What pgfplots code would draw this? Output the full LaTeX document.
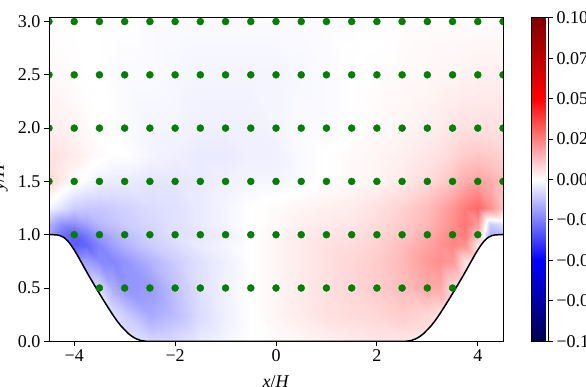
\documentclass[border=0pt]{standalone}
\usepackage{fontspec}
\setmainfont{Liberation Serif}
\usepackage{pgfplots}
\pgfplotsset{compat=1.18}
\definecolor{mplgreen}{RGB}{0,128,0}
\newcommand\tfont{\fontsize{18}{21}\selectfont}
\pgfplotsset{
  tick label style={font=\tfont},
  label style={font=\tfont},
  tick align=outside,
  major tick length=5pt,
  every tick/.style={black, line width=1pt},
  axis line style={line width=1pt},
}
\begin{document}
\begin{tikzpicture}
\path[use as bounding box] (0,0) rectangle (586pt,386pt);
\begin{axis}[
  at={(49pt,44.7pt)}, anchor=south west,
  scale only axis, width=454pt, height=323.6pt,
  xmin=-4.5, xmax=4.5, ymin=0, ymax=3.036,
  axis on top, clip marker paths=true,
  tick pos=left,
  xtick={-4,-2,0,2,4}, xticklabels={−4,−2,0,2,4},
  ytick={0,0.5,1,1.5,2,2.5,3}, yticklabels={0.0,0.5,1.0,1.5,2.0,2.5,3.0},
  xlabel={\textit{x}/\textit{H}},
  ylabel={\textit{y}/\textit{H}},
  xlabel style={at={(axis description cs:0.5,0)}, anchor=north, inner sep=0pt, yshift=-34pt},
  ylabel style={at={(axis description cs:-0.0903,0.508)}, anchor=south, rotate=0, inner sep=0pt},
  colormap={seismic}{rgb=(0,0,0.3) rgb=(0,0,1) rgb=(1,1,1) rgb=(1,0,0) rgb=(0.5,0,0)},
  point meta min=-0.1, point meta max=0.1,
  colorbar,
  colorbar style={
    at={(parent axis.north east)}, anchor=north west, xshift=19.5pt,
    scale only axis, width=17pt, height=323.6pt,
    ytick={-0.1,-0.075,-0.05,-0.025,0,0.025,0.05,0.075,0.1},
    yticklabels={−0.100,−0.075,−0.050,−0.025,0.000,0.025,0.050,0.075,0.100},
    ytick pos=right, yticklabel pos=right,
  },
]
% field, rows of constant y/H
\addplot[surf, shader=interp, mesh/cols=25, point meta=explicit] coordinates {
(-4.5,0)[-0.005] (-4.25,0)[-0.005] (-4,0)[-0.005] (-3.75,0)[-0.005] (-3.5,0)[-0.005] (-3.25,0)[-0.005] (-3,0)[-0.006] (-2.5,0)[-0.008] (-2,0)[-0.007] (-1.5,0)[-0.004] (-1,0)[-0.002] (-0.5,0)[0] (0,0)[0.001] (0.5,0)[0.002] (1,0)[0.003] (1.5,0)[0.004] (2,0)[0.005] (2.5,0)[0.005] (3,0)[0.004] (3.25,0)[0.003] (3.5,0)[0.003] (3.75,0)[0.003] (4,0)[0.003] (4.25,0)[0.003] (4.5,0)[0.003]
(-4.5,0.25)[-0.006] (-4.25,0.25)[-0.006] (-4,0.25)[-0.006] (-3.75,0.25)[-0.006] (-3.5,0.25)[-0.006] (-3.25,0.25)[-0.006] (-3,0.25)[-0.010] (-2.5,0.25)[-0.017] (-2,0.25)[-0.013] (-1.5,0.25)[-0.007] (-1,0.25)[-0.003] (-0.5,0.25)[0] (0,0.25)[0.002] (0.5,0.25)[0.004] (1,0.25)[0.006] (1.5,0.25)[0.007] (2,0.25)[0.008] (2.5,0.25)[0.010] (3,0.25)[0.008] (3.25,0.25)[0.005] (3.5,0.25)[0.004] (3.75,0.25)[0.004] (4,0.25)[0.004] (4.25,0.25)[0.004] (4.5,0.25)[0.004]
(-4.5,0.5)[-0.010] (-4.25,0.5)[-0.010] (-4,0.5)[-0.010] (-3.75,0.5)[-0.010] (-3.5,0.5)[-0.007] (-3.25,0.5)[-0.016] (-3,0.5)[-0.021] (-2.5,0.5)[-0.020] (-2,0.5)[-0.012] (-1.5,0.5)[-0.006] (-1,0.5)[-0.0025] (-0.5,0.5)[0] (0,0.5)[0.002] (0.5,0.5)[0.004] (1,0.5)[0.006] (1.5,0.5)[0.008] (2,0.5)[0.010] (2.5,0.5)[0.013] (3,0.5)[0.017] (3.25,0.5)[0.017] (3.5,0.5)[0.006] (3.75,0.5)[0.004] (4,0.5)[0.004] (4.25,0.5)[0.004] (4.5,0.5)[0.004]
(-4.5,0.75)[-0.020] (-4.25,0.75)[-0.020] (-4,0.75)[-0.020] (-3.75,0.75)[-0.019] (-3.5,0.75)[-0.023] (-3.25,0.75)[-0.024] (-3,0.75)[-0.021] (-2.5,0.75)[-0.015] (-2,0.75)[-0.010] (-1.5,0.75)[-0.006] (-1,0.75)[-0.003] (-0.5,0.75)[0] (0,0.75)[0.002] (0.5,0.75)[0.004] (1,0.75)[0.006] (1.5,0.75)[0.008] (2,0.75)[0.010] (2.5,0.75)[0.014] (3,0.75)[0.020] (3.25,0.75)[0.022] (3.5,0.75)[0.020] (3.75,0.75)[0.006] (4,0.75)[0.004] (4.25,0.75)[0.004] (4.5,0.75)[0.004]
(-4.5,0.9)[-0.025] (-4.25,0.9)[-0.028] (-4,0.9)[-0.032] (-3.75,0.9)[-0.030] (-3.5,0.9)[-0.024] (-3.25,0.9)[-0.019] (-3,0.9)[-0.015] (-2.5,0.9)[-0.010] (-2,0.9)[-0.007] (-1.5,0.9)[-0.004] (-1,0.9)[-0.002] (-0.5,0.9)[0] (0,0.9)[0.002] (0.5,0.9)[0.004] (1,0.9)[0.006] (1.5,0.9)[0.007] (2,0.9)[0.009] (2.5,0.9)[0.013] (3,0.9)[0.018] (3.25,0.9)[0.021] (3.5,0.9)[0.024] (3.75,0.9)[0.022] (4,0.9)[0.004] (4.25,0.9)[-0.008] (4.5,0.9)[-0.008]
(-4.5,1)[-0.018] (-4.25,1)[-0.028] (-4,1)[-0.032] (-3.75,1)[-0.026] (-3.5,1)[-0.020] (-3.25,1)[-0.016] (-3,1)[-0.013] (-2.5,1)[-0.009] (-2,1)[-0.006] (-1.5,1)[-0.005] (-1,1)[-0.003] (-0.5,1)[0] (0,1)[0.002] (0.5,1)[0.004] (1,1)[0.005] (1.5,1)[0.006] (2,1)[0.008] (2.5,1)[0.011] (3,1)[0.016] (3.25,1)[0.020] (3.5,1)[0.024] (3.75,1)[0.026] (4,1)[0.012] (4.25,1)[-0.016] (4.5,1)[-0.014]
(-4.5,1.1)[-0.015] (-4.25,1.1)[-0.022] (-4,1.1)[-0.022] (-3.75,1.1)[-0.018] (-3.5,1.1)[-0.014] (-3.25,1.1)[-0.012] (-3,1.1)[-0.010] (-2.5,1.1)[-0.008] (-2,1.1)[-0.006] (-1.5,1.1)[-0.004] (-1,1.1)[-0.002] (-0.5,1.1)[0] (0,1.1)[0.001] (0.5,1.1)[0.003] (1,1.1)[0.004] (1.5,1.1)[0.005] (2,1.1)[0.007] (2.5,1.1)[0.010] (3,1.1)[0.014] (3.25,1.1)[0.018] (3.5,1.1)[0.022] (3.75,1.1)[0.027] (4,1.1)[0.020] (4.25,1.1)[-0.010] (4.5,1.1)[-0.006]
(-4.5,1.25)[-0.002] (-4.25,1.25)[-0.006] (-4,1.25)[-0.010] (-3.75,1.25)[-0.011] (-3.5,1.25)[-0.011] (-3.25,1.25)[-0.010] (-3,1.25)[-0.009] (-2.5,1.25)[-0.007] (-2,1.25)[-0.006] (-1.5,1.25)[-0.004] (-1,1.25)[-0.002] (-0.5,1.25)[0] (0,1.25)[0.001] (0.5,1.25)[0.002] (1,1.25)[0.003] (1.5,1.25)[0.004] (2,1.25)[0.006] (2.5,1.25)[0.009] (3,1.25)[0.013] (3.25,1.25)[0.017] (3.5,1.25)[0.021] (3.75,1.25)[0.026] (4,1.25)[0.030] (4.25,1.25)[0.022] (4.5,1.25)[0.012]
(-4.5,1.5)[0.008] (-4.25,1.5)[0.004] (-4,1.5)[0.001] (-3.75,1.5)[-0.001] (-3.5,1.5)[-0.003] (-3.25,1.5)[-0.004] (-3,1.5)[-0.004] (-2.5,1.5)[-0.005] (-2,1.5)[-0.005] (-1.5,1.5)[-0.004] (-1,1.5)[-0.003] (-0.5,1.5)[-0.002] (0,1.5)[-0.002] (0.5,1.5)[-0.001] (1,1.5)[0] (1.5,1.5)[0.001] (2,1.5)[0.002] (2.5,1.5)[0.004] (3,1.5)[0.007] (3.25,1.5)[0.009] (3.5,1.5)[0.012] (3.75,1.5)[0.016] (4,1.5)[0.018] (4.25,1.5)[0.016] (4.5,1.5)[0.013]
(-4.5,1.75)[0.006] (-4.25,1.75)[0.005] (-4,1.75)[0.004] (-3.75,1.75)[0.002] (-3.5,1.75)[0.001] (-3.25,1.75)[0] (-3,1.75)[0] (-2.5,1.75)[-0.002] (-2,1.75)[-0.003] (-1.5,1.75)[-0.004] (-1,1.75)[-0.004] (-0.5,1.75)[-0.003] (0,1.75)[-0.003] (0.5,1.75)[-0.001] (1,1.75)[0] (1.5,1.75)[0.001] (2,1.75)[0.002] (2.5,1.75)[0.003] (3,1.75)[0.005] (3.25,1.75)[0.006] (3.5,1.75)[0.008] (3.75,1.75)[0.010] (4,1.75)[0.011] (4.25,1.75)[0.010] (4.5,1.75)[0.009]
(-4.5,2)[0.003] (-4.25,2)[0.003] (-4,2)[0.002] (-3.75,2)[0.001] (-3.5,2)[0] (-3.25,2)[0] (-3,2)[-0.001] (-2.5,2)[-0.002] (-2,2)[-0.002] (-1.5,2)[-0.003] (-1,2)[-0.003] (-0.5,2)[-0.003] (0,2)[-0.002] (0.5,2)[-0.001] (1,2)[-0.001] (1.5,2)[0] (2,2)[0.001] (2.5,2)[0.002] (3,2)[0.003] (3.25,2)[0.004] (3.5,2)[0.005] (3.75,2)[0.006] (4,2)[0.006] (4.25,2)[0.006] (4.5,2)[0.006]
(-4.5,2.5)[0.001] (-4.25,2.5)[0.001] (-4,2.5)[0.0005] (-3.75,2.5)[0] (-3.5,2.5)[0] (-3.25,2.5)[-0.0005] (-3,2.5)[-0.001] (-2.5,2.5)[-0.001] (-2,2.5)[-0.0015] (-1.5,2.5)[-0.002] (-1,2.5)[-0.002] (-0.5,2.5)[-0.002] (0,2.5)[-0.002] (0.5,2.5)[-0.0015] (1,2.5)[-0.001] (1.5,2.5)[0] (2,2.5)[0.0005] (2.5,2.5)[0.001] (3,2.5)[0.0015] (3.25,2.5)[0.002] (3.5,2.5)[0.002] (3.75,2.5)[0.0025] (4,2.5)[0.003] (4.25,2.5)[0.003] (4.5,2.5)[0.003]
(-4.5,3.036)[0] (-4.25,3.036)[0] (-4,3.036)[0] (-3.75,3.036)[0] (-3.5,3.036)[0] (-3.25,3.036)[0] (-3,3.036)[0] (-2.5,3.036)[-0.001] (-2,3.036)[-0.001] (-1.5,3.036)[-0.001] (-1,3.036)[-0.001] (-0.5,3.036)[-0.001] (0,3.036)[-0.001] (0.5,3.036)[-0.001] (1,3.036)[-0.0005] (1.5,3.036)[-0.0005] (2,3.036)[-0.0005] (2.5,3.036)[0.0005] (3,3.036)[0.0005] (3.25,3.036)[0.0005] (3.5,3.036)[0.0005] (3.75,3.036)[0.0005] (4,3.036)[0.0005] (4.25,3.036)[0.0005] (4.5,3.036)[0.0005]
};
% solid region under the hill
\addplot[draw=none, fill=white] coordinates {
(-4.5,0) (-4.5,1.0) (-4.429,1.0) (-4.357,0.999) (-4.286,0.9923) (-4.214,0.9766) (-4.179,0.964) (-4.125,0.9393) (-4.071,0.9076) (-4.0,0.857) (-3.946,0.8149) (-3.893,0.770) (-3.839,0.7245) (-3.786,0.6786) (-3.679,0.5896) (-3.571,0.504) (-3.5,0.4481) (-3.429,0.3929) (-3.321,0.3111) (-3.214,0.2335) (-3.143,0.1859) (-3.071,0.1429) (-2.929,0.0733) (-2.857,0.0470) (-2.786,0.0266) (-2.679,0.0067) (-2.571,0)
(2.571,0) (2.679,0.0067) (2.786,0.0266) (2.857,0.0470) (2.929,0.0733) (3.071,0.1429) (3.143,0.1859) (3.214,0.2335) (3.321,0.3111) (3.429,0.3929) (3.5,0.4481) (3.571,0.504) (3.679,0.5896) (3.786,0.6786) (3.839,0.7245) (3.893,0.770) (3.946,0.8149) (4.0,0.857) (4.071,0.9076) (4.125,0.9393) (4.179,0.964) (4.214,0.9766) (4.286,0.9923) (4.357,0.999) (4.429,1.0) (4.5,1.0) (4.5,0)
};
% hill wall
\addplot[black, line width=1.5pt] coordinates {
(-4.5,1.0) (-4.429,1.0) (-4.357,0.999) (-4.286,0.9923) (-4.214,0.9766) (-4.179,0.964) (-4.125,0.9393) (-4.071,0.9076) (-4.0,0.857) (-3.946,0.8149) (-3.893,0.770) (-3.839,0.7245) (-3.786,0.6786) (-3.679,0.5896) (-3.571,0.504) (-3.5,0.4481) (-3.429,0.3929) (-3.321,0.3111) (-3.214,0.2335) (-3.143,0.1859) (-3.071,0.1429) (-2.929,0.0733) (-2.857,0.0470) (-2.786,0.0266) (-2.679,0.0067) (-2.571,0)
(2.571,0) (2.679,0.0067) (2.786,0.0266) (2.857,0.0470) (2.929,0.0733) (3.071,0.1429) (3.143,0.1859) (3.214,0.2335) (3.321,0.3111) (3.429,0.3929) (3.5,0.4481) (3.571,0.504) (3.679,0.5896) (3.786,0.6786) (3.839,0.7245) (3.893,0.770) (3.946,0.8149) (4.0,0.857) (4.071,0.9076) (4.125,0.9393) (4.179,0.964) (4.214,0.9766) (4.286,0.9923) (4.357,0.999) (4.429,1.0) (4.5,1.0)
};
% sampling points
\addplot[only marks, mark=*, mark size=3.5pt, mplgreen] coordinates {
(-3.5,0.5) (-3,0.5) (-2.5,0.5) (-2,0.5) (-1.5,0.5) (-1,0.5) (-0.5,0.5) (0,0.5) (0.5,0.5) (1,0.5) (1.5,0.5) (2,0.5) (2.5,0.5) (3,0.5) (3.5,0.5)
(-4,1) (-3.5,1) (-3,1) (-2.5,1) (-2,1) (-1.5,1) (-1,1) (-0.5,1) (0,1) (0.5,1) (1,1) (1.5,1) (2,1) (2.5,1) (3,1) (3.5,1) (4,1)
(-4.5,1.5) (-4,1.5) (-3.5,1.5) (-3,1.5) (-2.5,1.5) (-2,1.5) (-1.5,1.5) (-1,1.5) (-0.5,1.5) (0,1.5) (0.5,1.5) (1,1.5) (1.5,1.5) (2,1.5) (2.5,1.5) (3,1.5) (3.5,1.5) (4,1.5) (4.5,1.5)
(-4.5,2) (-4,2) (-3.5,2) (-3,2) (-2.5,2) (-2,2) (-1.5,2) (-1,2) (-0.5,2) (0,2) (0.5,2) (1,2) (1.5,2) (2,2) (2.5,2) (3,2) (3.5,2) (4,2) (4.5,2)
(-4.5,2.5) (-4,2.5) (-3.5,2.5) (-3,2.5) (-2.5,2.5) (-2,2.5) (-1.5,2.5) (-1,2.5) (-0.5,2.5) (0,2.5) (0.5,2.5) (1,2.5) (1.5,2.5) (2,2.5) (2.5,2.5) (3,2.5) (3.5,2.5) (4,2.5) (4.5,2.5)
(-4.5,3) (-4,3) (-3.5,3) (-3,3) (-2.5,3) (-2,3) (-1.5,3) (-1,3) (-0.5,3) (0,3) (0.5,3) (1,3) (1.5,3) (2,3) (2.5,3) (3,3) (3.5,3) (4,3) (4.5,3)
};
\end{axis}
\end{tikzpicture}
\end{document}
